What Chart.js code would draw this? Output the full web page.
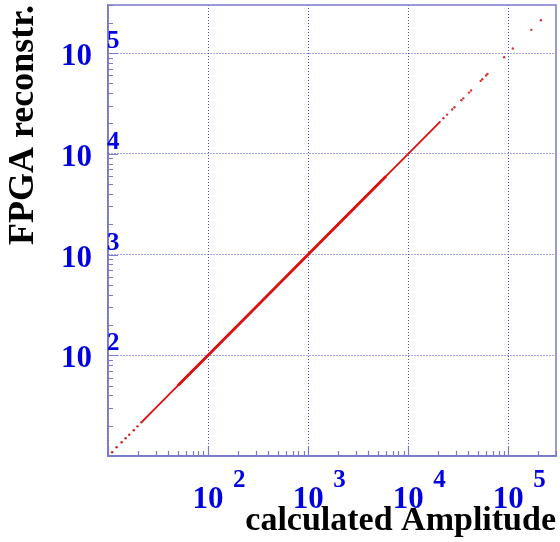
<!DOCTYPE html>
<html>
<head>
<meta charset="utf-8">
<script src="https://cdn.jsdelivr.net/npm/chart.js@4"></script>
<style>
    html, body { margin: 0; padding: 0; background: #fff; }
    canvas { display: block; }
</style>
</head>
<body>
<canvas id="chart" width="560" height="542"></canvas>
<script>
// decades shown on both axes
const decades = [1, 2, 3, 4, 5];
const axisMin = 10;
const axisMax = 300000;

// sparse events at the low end
const lowCalc = [11.0, 12.2, 13.7, 15.0, 16.3, 18.1, 19.7, 21.6];
const lowFpga = [10.9, 12.2, 13.7, 15.0, 16.3, 18.0, 19.7, 21.6];

// dense band of events (drawn as a continuous trace)
const bandCalc = [22, 30, 45, 70, 100, 200, 400, 1000, 2000, 5000, 10000, 15000, 21000];
const bandFpga = [22, 30, 45, 70, 100, 200, 400, 1000, 2000, 5000, 10000, 15000, 21000];
const coreCalc = [50, 100, 300, 1000, 3000, 6000];
const coreFpga = [50, 100, 300, 1000, 3000, 6000];

// sparse events at the high end
const highCalc = [22500, 24500, 27500, 29000, 34000, 35500, 40500, 42500, 53000, 55000, 60000, 62000, 91000, 111000, 170000, 212000];
const highFpga = [22500, 24500, 27500, 29000, 34000, 35500, 40500, 42500, 53000, 55000, 60000, 62000, 91000, 111000, 170000, 212000];

const toPoints = (xs, ys) => xs.map((x, i) => ({x: x, y: ys[i]}));

const labelBlue = '#0000e0';
const frameBlue = '#7a7acc';
const gridBlue = '#4a4ad4';
const red = '#dc1010';

function decadeTicks(scale) {
    scale.ticks = decades.map(d => ({value: Math.pow(10, d)}));
}

const rootFrame = {
    id: 'rootFrame',
    afterDraw(chart) {
        const ctx = chart.ctx;
        const area = chart.chartArea;
        const xs = chart.scales.x;
        const ys = chart.scales.y;
        ctx.save();
        ctx.strokeStyle = frameBlue;
        ctx.lineWidth = 1.5;
        ctx.strokeRect(area.left, area.top, area.right - area.left, area.bottom - area.top);

        // inner ticks, ROOT style
        ctx.lineWidth = 1.2;
        ctx.beginPath();
        for (let d = 1; d <= 5; d++) {
            for (let m = 1; m <= 9; m++) {
                const v = m * Math.pow(10, d);
                const len = m === 1 ? 10 : 5;
                if (v <= axisMax) {
                    const px = Math.round(xs.getPixelForValue(v)) + 0.5;
                    ctx.moveTo(px, area.bottom);
                    ctx.lineTo(px, area.bottom - len);
                    const py = Math.round(ys.getPixelForValue(v)) + 0.5;
                    ctx.moveTo(area.left, py);
                    ctx.lineTo(area.left + len, py);
                }
            }
        }
        ctx.stroke();

        // tick labels 10^n
        ctx.fillStyle = labelBlue;
        ctx.textBaseline = 'alphabetic';
        decades.slice(1).forEach(d => {
            const v = Math.pow(10, d);
            const px = xs.getPixelForValue(v);
            ctx.font = 'bold 31px "Liberation Serif"';
            ctx.textAlign = 'center';
            ctx.fillText('10', px, 508);
            ctx.font = 'bold 25px "Liberation Serif"';
            ctx.textAlign = 'left';
            ctx.fillText(String(d), px + 25, 487);

            const py = ys.getPixelForValue(v);
            ctx.font = 'bold 31px "Liberation Serif"';
            ctx.textAlign = 'right';
            ctx.fillText('10', 92, py + 12);
            ctx.font = 'bold 25px "Liberation Serif"';
            ctx.textAlign = 'left';
            ctx.fillText(String(d), 107, py - 5);
        });
        ctx.restore();
    }
};

new Chart(document.getElementById('chart'), {
    type: 'scatter',
    data: {
        datasets: [
            {
                label: 'band',
                data: toPoints(bandCalc, bandFpga),
                showLine: true,
                borderColor: red,
                borderWidth: 1.8,
                pointRadius: 0
            },
            {
                label: 'core',
                data: toPoints(coreCalc, coreFpga),
                showLine: true,
                borderColor: red,
                borderWidth: 2.8,
                pointRadius: 0
            },
            {
                label: 'low',
                data: toPoints(lowCalc, lowFpga),
                backgroundColor: '#c81e1e',
                borderWidth: 0,
                pointRadius: 1.2
            },
            {
                label: 'high',
                data: toPoints(highCalc, highFpga),
                backgroundColor: '#d83030',
                borderWidth: 0,
                pointRadius: 1.2
            }
        ]
    },
    options: {
        responsive: false,
        animation: false,
        devicePixelRatio: 1,
        layout: {padding: {top: 5, right: 2, left: 0, bottom: 0}},
        plugins: {
            legend: {display: false},
            tooltip: {enabled: false}
        },
        scales: {
            x: {
                type: 'logarithmic',
                min: axisMin,
                max: axisMax,
                afterBuildTicks: decadeTicks,
                afterFit(scale) { scale.height = 86; },
                ticks: {display: false},
                grid: {color: gridBlue, lineWidth: 1, drawTicks: false},
                border: {color: frameBlue, width: 1.5, dash: [1, 2]},
                title: {
                    display: true, text: 'calculated Amplitude', align: 'end', color: '#000',
                    font: {family: 'Liberation Serif', size: 34, weight: 'bold'},
                    padding: {top: 3, bottom: 0}
                }
            },
            y: {
                type: 'logarithmic',
                min: axisMin,
                max: axisMax,
                afterBuildTicks: decadeTicks,
                afterFit(scale) { scale.width = 108; },
                ticks: {display: false},
                grid: {color: gridBlue, lineWidth: 1, drawTicks: false},
                border: {color: frameBlue, width: 1.5, dash: [1, 2]},
                title: {
                    display: true, text: 'FPGA reconstr.', align: 'end', color: '#000',
                    font: {family: 'Liberation Serif', size: 36, weight: 'bold'},
                    padding: {top: 2, bottom: 0}
                }
            }
        }
    },
    plugins: [rootFrame]
});
</script>
</body>
</html>
